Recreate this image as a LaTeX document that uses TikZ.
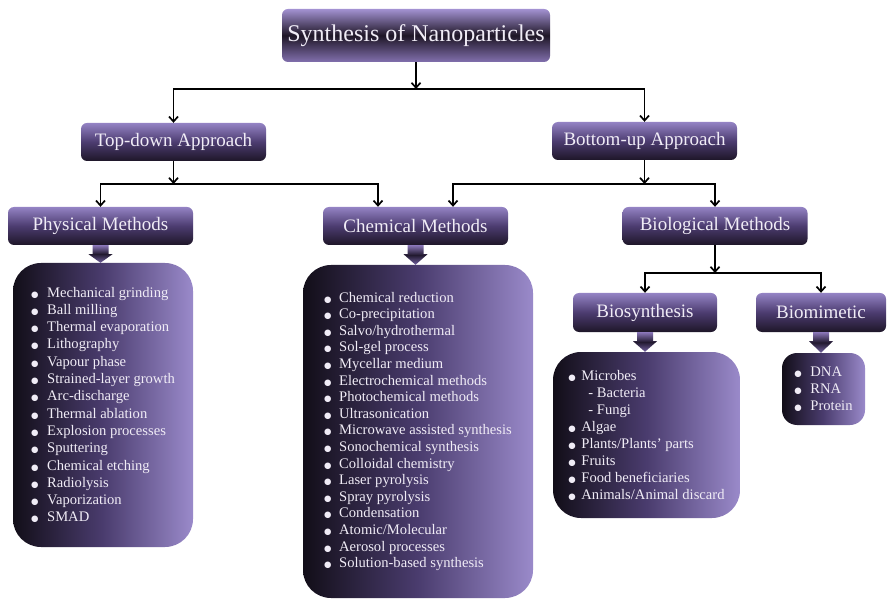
\documentclass[tikz,border=0pt]{standalone}
\usepackage{fontspec}
\setmainfont{Liberation Serif}
\newfontfamily\symfont{DejaVu Sans}
\usetikzlibrary{arrows.meta,calc}

\definecolor{hdrTop}{HTML}{9483C4}
\definecolor{hdrMid}{HTML}{4C3C70}
\definecolor{hdrBot}{HTML}{1E1628}
\definecolor{ttlTop}{HTML}{A392D2}
\definecolor{ttlMid}{HTML}{1E1626}
\definecolor{ttlBot}{HTML}{8270AE}
\definecolor{lstL}{HTML}{120E18}
\definecolor{lstM}{HTML}{4A3C6E}
\definecolor{lstR}{HTML}{9A8ACA}
\definecolor{arrTop}{HTML}{8A76B8}
\definecolor{arrMid}{HTML}{221A30}
\definecolor{arrBot}{HTML}{7260A0}
\definecolor{txt}{HTML}{F0ECF6}

% round bullet in a fixed-width slot
\newcommand\itm[1][16pt]{\makebox[#1][l]{{\symfont\fontsize{8.5}{8.5}\selectfont ●}}}

% fat downward arrow from a header box to its list box
\newcommand\blockarrow[2]{%
  \shade[top color=arrTop, bottom color=arrBot, middle color=arrMid]
    ([xshift=-8pt]#1.south) -- ([xshift=8pt]#1.south)
    -- ([xshift=8pt,yshift=-9pt]#1.south) -- ([xshift=12pt,yshift=-9pt]#1.south)
    -- (#1.south |- #2.north)
    -- ([xshift=-12pt,yshift=-9pt]#1.south) -- ([xshift=-8pt,yshift=-9pt]#1.south)
    -- cycle;}

\begin{document}
\begin{tikzpicture}[x=1pt,y=-1pt,
  hdr/.style={rounded corners=6pt, inner sep=0pt, text=txt,
    font=\fontsize{19}{22}\selectfont,
    top color=hdrTop, bottom color=hdrBot, middle color=hdrMid,
    minimum width=185pt, minimum height=38pt},
  ttl/.style={hdr, top color=ttlTop, bottom color=ttlBot, middle color=ttlMid,
    font=\fontsize{24}{28}\selectfont, minimum width=268pt, minimum height=53pt},
  lst/.style={rounded corners=28pt, inner sep=0pt, text=txt, align=left,
    left color=lstL, right color=lstR, middle color=lstM},
  conn/.style={line width=1.7pt, -{Straight Barb[length=5pt,width=9pt]}}
]
\fill[white] (0,0) rectangle (888,601);
\useasboundingbox (0,0) rectangle (888,601);

% header boxes
\node[ttl] (title) at (416,35.5) {Synthesis of Nanoparticles};
\node[hdr] (topdown) at (173.5,142) {Top-down Approach};
\node[hdr] (bottomup) at (644.5,141) {Bottom-up Approach};
\node[hdr] (phys) at (100.5,226) {Physical Methods};
\node[hdr] (chem) at (415.5,226) {Chemical Methods};
\node[hdr] (bio) at (715,226) {Biological Methods};
\node[hdr, minimum width=144pt, minimum height=39pt] (biosyn) at (645,312.5) {Biosynthesis};
\node[hdr, minimum width=130pt, minimum height=39pt] (biomim) at (821,312.5) {Biomimetic};

% list boxes
\node[lst, minimum width=180pt, minimum height=284pt,
  font=\fontsize{14.6}{17.3}\selectfont] (physL) at (103,405) {%
\itm Mechanical grinding\\
\itm Ball milling\\
\itm Thermal evaporation\\
\itm Lithography\\
\itm Vapour phase\\
\itm Strained-layer growth\\
\itm Arc-discharge\\
\itm Thermal ablation\\
\itm Explosion processes\\
\itm Sputtering\\
\itm Chemical etching\\
\itm Radiolysis\\
\itm Vaporization\\
\itm SMAD};

\node[lst, minimum width=230pt, minimum height=333pt,
  font=\fontsize{14.6}{16.6}\selectfont] (chemL) at (418,431.5) {%
\itm[15pt]Chemical reduction\\
\itm[15pt]Co-precipitation\\
\itm[15pt]Salvo/hydrothermal\\
\itm[15pt]Sol-gel process\\
\itm[15pt]Mycellar medium\\
\itm[15pt]Electrochemical methods\\
\itm[15pt]Photochemical methods\\
\itm[15pt]Ultrasonication\\
\itm[15pt]Microwave assisted synthesis\\
\itm[15pt]Sonochemical synthesis\\
\itm[15pt]Colloidal chemistry\\
\itm[15pt]Laser pyrolysis\\
\itm[15pt]Spray pyrolysis\\
\itm[15pt]Condensation\\
\itm[15pt]Atomic/Molecular\\
\itm[15pt]Aerosol processes\\
\itm[15pt]Solution-based synthesis};

\node[lst, minimum width=187pt, minimum height=166pt,
  font=\fontsize{14.6}{17}\selectfont] (bioL) at (646.5,435) {%
\itm[13pt]Microbes\\
\hspace*{20pt}- Bacteria\\
\hspace*{20pt}- Fungi\\
\itm[13pt]Algae\\
\itm[13pt]Plants/Plants{\char"0027} parts\\
\itm[13pt]Fruits\\
\itm[13pt]Food beneficiaries\\
\itm[13pt]Animals/Animal discard};

\node[lst, rounded corners=15pt, minimum width=83pt, minimum height=72pt,
  font=\fontsize{14.6}{17}\selectfont] (mimL) at (823.5,389) {%
\itm[16pt]DNA\\
\itm[16pt]RNA\\
\itm[16pt]Protein};

% fat arrows into the lists
\blockarrow{phys}{physL}
\blockarrow{chem}{chemL}
\blockarrow{biosyn}{bioL}
\blockarrow{biomim}{mimL}

% junction points of the tree
\coordinate (j0) at (416,89);
\coordinate (j1) at (173.5,184);
\coordinate (j2) at (644.5,184);
\coordinate (j3) at (715,273);

% connectors
\draw[conn] (title.south) -- (j0);
\draw[conn] (j0) -| (topdown.north);
\draw[conn] (j0) -| (bottomup.north);
\draw[conn] (topdown.south) -- (j1);
\draw[conn] (j1) -| (phys.north);
\draw[conn] (j1) -| ([xshift=-37.5pt]chem.north);
\draw[conn] (bottomup.south) -- (j2);
\draw[conn] (j2) -| ([xshift=37.5pt]chem.north);
\draw[conn] (j2) -| (bio.north);
\draw[conn] (bio.south) -- (j3);
\draw[conn] (j3) -| (biosyn.north);
\draw[conn] (j3) -| (biomim.north);
\end{tikzpicture}
\end{document}
